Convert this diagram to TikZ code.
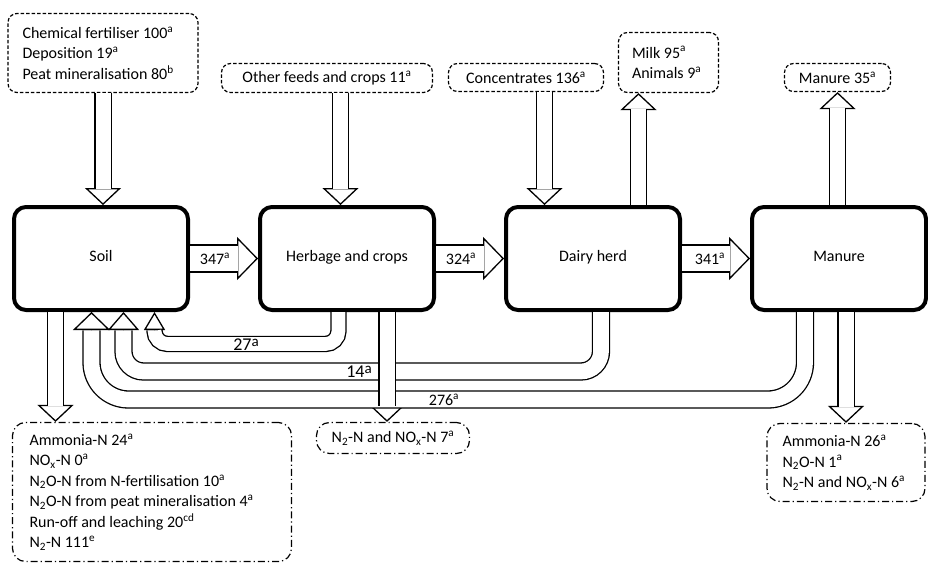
\documentclass[tikz,border=0pt]{standalone}
\usepackage{fontspec}
\setmainfont{Carlito}
\usetikzlibrary{arrows.meta,positioning,calc}

\begin{document}
\begin{tikzpicture}[
  x=1pt, y=-1pt,
  font=\fontsize{16}{20.5}\selectfont,
  pool/.style={draw, line width=4pt, rounded corners=12pt, text height=1.6ex, text depth=.4ex,
               minimum width=174pt, minimum height=103pt},
  inbox/.style={draw, line width=1.2pt, dash pattern=on 3.5pt off 2pt,
                rounded corners=9pt, align=flush left},
  lossbox/.style={draw, line width=1.2pt, dash pattern=on 7pt off 3pt on 1.2pt off 3pt,
                  rounded corners=13pt, align=flush left},
  shaft/.style 2 args={draw, double=white, double distance=#1, line width=1.3pt, shorten >=#2},
  head/.style 2 args={line width=1.3pt, -{Triangle[fill=white, width=#1, length=#2]}},
  qty/.style={inner sep=0pt},
  bigqty/.style={inner sep=0pt, font=\fontsize{18}{20}\selectfont}]
  \useasboundingbox (0,0) rectangle (928,564);

  % pools
  \node[pool] (soil) at (101,258.5) {Soil};
  \node[pool, right=68pt of soil] (herb) {Herbage and crops};
  \node[pool, right=68pt of herb] (dairy) {Dairy herd};
  \node[pool, right=68pt of dairy] (manure) {Manure};

  % inputs and outputs
  \node[inbox, inner xsep=14.5pt, text width=161pt, minimum height=79pt] (feedSoil) at (103,53)
    {Chemical fertiliser 100\textsuperscript{a}\\Deposition 19\textsuperscript{a}\\Peat mineralisation 80\textsuperscript{b}};
  \node[inbox, minimum width=211pt, minimum height=29pt] (feedHerb) at (327,78)
    {Other feeds and crops 11\textsuperscript{a}};
  \node[inbox, minimum width=155pt, minimum height=28pt] (feedDairy) at (526,77.5)
    {Concentrates 136\textsuperscript{a}};
  \node[inbox, inner xsep=13.5pt, text width=73pt, minimum height=60pt] (outDairy) at (668.5,62.5)
    {Milk 95\textsuperscript{a}\\Animals 9\textsuperscript{a}};
  \node[inbox, minimum width=106pt, minimum height=28pt] (outManure) at (837.5,77.5)
    {Manure 35\textsuperscript{a}};

  % losses
  \node[lossbox, inner xsep=17pt, text width=245pt, minimum height=139pt] (lossSoil) at (152,492)
    {Ammonia-N 24\textsuperscript{a}\\NO\textsubscript{x}-N 0\textsuperscript{a}\\
     N\textsubscript{2}O-N from N-fertilisation 10\textsuperscript{a}\\
     N\textsubscript{2}O-N from peat mineralisation 4\textsuperscript{a}\\
     Run-off and leaching 20\textsuperscript{cd}\\N\textsubscript{2}-N 111\textsuperscript{e}};
  \node[lossbox, minimum width=153pt, minimum height=31pt] (lossHerb) at (393,438)
    {N\textsubscript{2}-N and NO\textsubscript{x}-N 7\textsuperscript{a}};
  \node[lossbox, inner xsep=15.5pt, text width=127pt, minimum height=78pt] (lossManure) at (846,462.5)
    {Ammonia-N 26\textsuperscript{a}\\N\textsubscript{2}O-N 1\textsuperscript{a}\\
     \mbox{N\textsubscript{2}-N and NO\textsubscript{x}-N 6\textsuperscript{a}}};

  % arrow ends
  \coordinate (inHerb) at ($(herb.north)+(-6.5,0)$);
  \coordinate (inDairy) at ($(dairy.north)+(-48.5,0)$);
  \coordinate (upDairy) at ($(dairy.north)+(45.5,0)$);
  \coordinate (dnSoil) at ($(soil.south)+(-45.5,0)$);
  \coordinate (dnHerb) at ($(herb.south)+(40,0)$);
  \coordinate (r27) at ($(soil.south)+(53.5,0)$);
  \coordinate (r14) at ($(soil.south)+(22.5,0)$);
  \coordinate (r276) at ($(soil.south)+(-9.5,0)$);
  \coordinate (s27) at ($(herb.south)+(-8.5,0)$);
  \coordinate (s14) at ($(dairy.south)+(8,0)$);
  \coordinate (s276) at ($(manure.south)+(-34,0)$);

  % heads first, shafts over them
  \draw[head={43pt}{21pt}] ($(herb.west)+(-21,0)$) -- (herb.west);
  \draw[head={43pt}{21pt}] ($(dairy.west)+(-21,0)$) -- (dairy.west);
  \draw[head={43pt}{21pt}] ($(manure.west)+(-21,0)$) -- (manure.west);
  \draw[shaft={25.7pt}{20.4pt}] (soil) -- (herb);
  \draw[shaft={25.7pt}{20.4pt}] (herb) -- (dairy);
  \draw[shaft={25.7pt}{20.4pt}] (dairy) -- (manure);

  \draw[head={36pt}{17pt}] ($(feedSoil.south |- soil.north)+(0,-17)$) -- (feedSoil.south |- soil.north);
  \draw[head={36pt}{17pt}] ($(inHerb)+(0,-17)$) -- (inHerb);
  \draw[head={36pt}{17pt}] ($(inDairy)+(0,-17)$) -- (inDairy);
  \draw[head={36pt}{17pt}] ($(upDairy |- outDairy.south)+(0,17)$) -- (upDairy |- outDairy.south);
  \draw[head={36pt}{17pt}] ($(outManure.south)+(0,17)$) -- (outManure.south);
  \draw[shaft={15pt}{16.4pt}] (feedSoil) -- (feedSoil.south |- soil.north);
  \draw[shaft={15pt}{16.4pt}] (inHerb |- feedHerb.south) -- (inHerb);
  \draw[shaft={15pt}{16.4pt}] (inDairy |- feedDairy.south) -- (inDairy);
  \draw[shaft={15pt}{16.4pt}] (upDairy) -- (upDairy |- outDairy.south);
  \draw[shaft={15pt}{16.4pt}] (outManure.south |- manure.north) -- (outManure.south);

  \draw[head={36pt}{17pt}] ($(dnSoil |- lossSoil.north)+(0,-17)$) -- (dnSoil |- lossSoil.north);
  \draw[head={36pt}{17pt}] ($(dnHerb |- lossHerb.north)+(0,-17)$) -- (dnHerb |- lossHerb.north);
  \draw[head={36pt}{17pt}] ($(lossManure.north)+(0,-17)$) -- (lossManure.north);
  \draw[shaft={15pt}{16.4pt}] (dnSoil) -- (dnSoil |- lossSoil.north);
  \draw[shaft={15pt}{16.4pt}] (lossManure.north |- manure.south) -- (lossManure.north);

  % returns to soil
  \draw[head={37pt}{18pt}] ($(r276)+(0,18)$) -- (r276);
  \draw[head={31pt}{18pt}] ($(r14)+(0,18)$) -- (r14);
  \draw[head={21pt}{18pt}] ($(r27)+(0,18)$) -- (r27);
  \draw[shaft={15.7pt}{18.4pt}, rounded corners=37pt] (s276) -- ++(0,87.5) -| (r276);
  \draw[shaft={15.7pt}{18.4pt}, rounded corners=20pt] (s14) -- ++(0,59.5) -| (r14);
  \draw[shaft={13.7pt}{18.4pt}, rounded corners=13pt] (s27) -- ++(0,32) -| (r27);
  \draw[shaft={15pt}{16.4pt}] (dnHerb) -- (dnHerb |- lossHerb.north);

  % quantities
  \node[qty] (q347) at (215,258.5) {347\textsuperscript{a}};
  \node[qty] (q324) at (461,258.5) {324\textsuperscript{a}};
  \node[qty] (q341) at (710,258.5) {341\textsuperscript{a}};
  \node[bigqty] (q27) at (246,345) {27\raisebox{.45ex}{\fontsize{15}{15}\selectfont a}};
  \node[bigqty] (q14) at (359,372) {14\raisebox{.45ex}{\fontsize{15}{15}\selectfont a}};
  \node[qty] (q276) at (444,399.5) {276\textsuperscript{a}};
\end{tikzpicture}
\end{document}
